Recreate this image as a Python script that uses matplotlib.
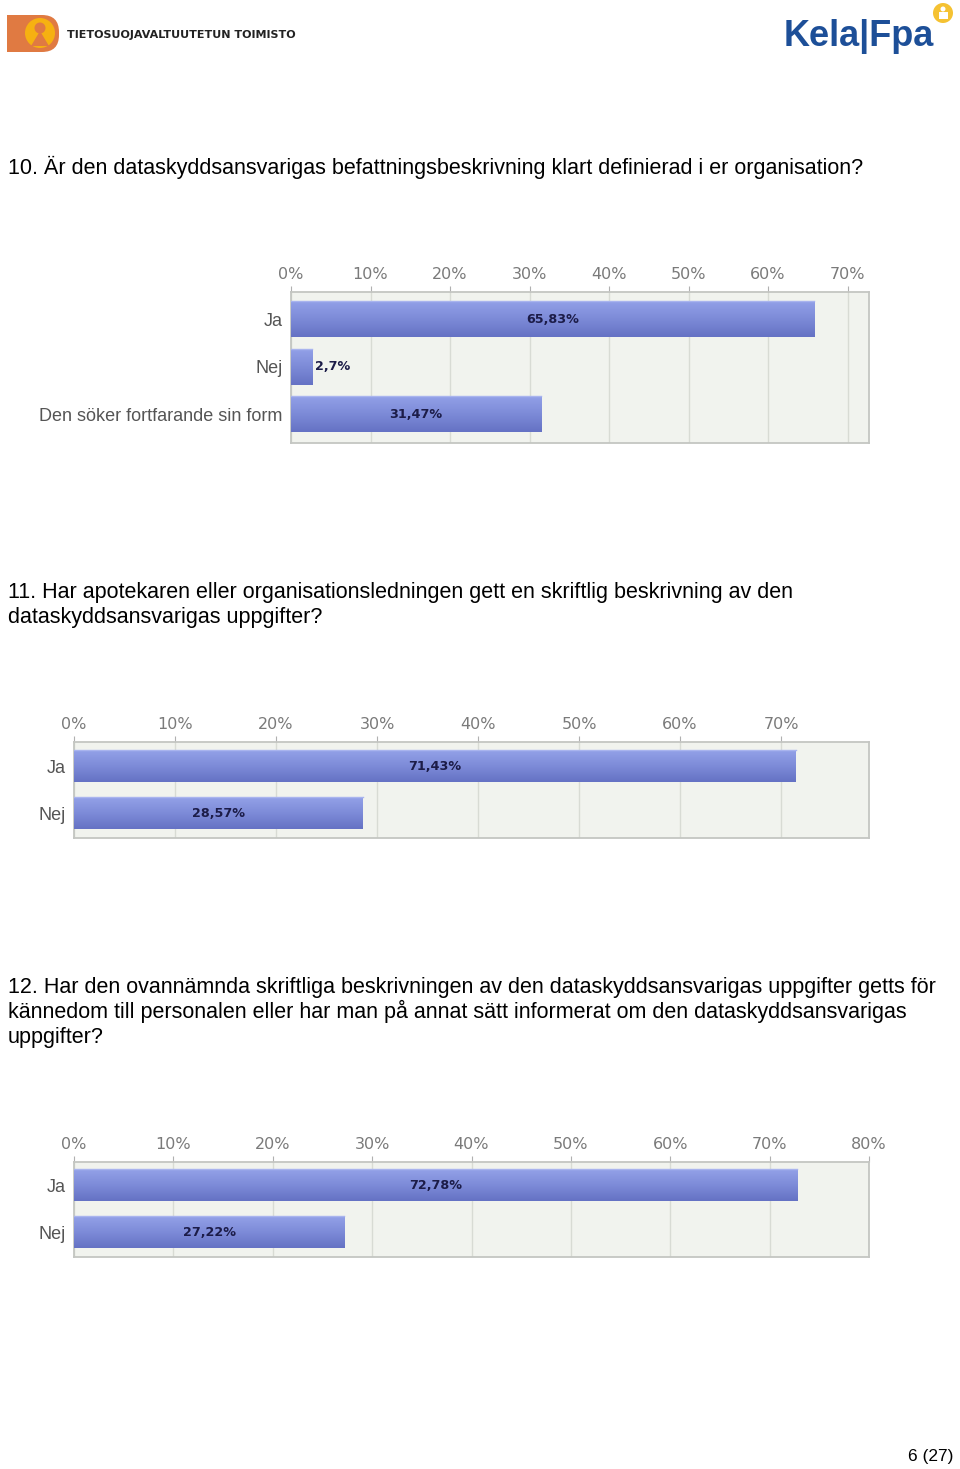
import numpy as np
import matplotlib
matplotlib.use("Agg")
import matplotlib.pyplot as plt
from matplotlib.colors import LinearSegmentedColormap
from matplotlib.patches import FancyBboxPatch, Circle, Polygon, Rectangle

# survey data
q10_text = ["10. Är den dataskyddsansvarigas befattningsbeskrivning klart definierad i er organisation?"]
q10_labels = ["Ja", "Nej", "Den söker fortfarande sin form"]
q10_values = [65.83, 2.7, 31.47]
q10_ticks = [0, 10, 20, 30, 40, 50, 60, 70]

q11_text = ["11. Har apotekaren eller organisationsledningen gett en skriftlig beskrivning av den",
            "dataskyddsansvarigas uppgifter?"]
q11_labels = ["Ja", "Nej"]
q11_values = [71.43, 28.57]
q11_ticks = [0, 10, 20, 30, 40, 50, 60, 70]

q12_text = ["12. Har den ovannämnda skriftliga beskrivningen av den dataskyddsansvarigas uppgifter getts för",
            "kännedom till personalen eller har man på annat sätt informerat om den dataskyddsansvarigas",
            "uppgifter?"]
q12_labels = ["Ja", "Nej"]
q12_values = [72.78, 27.22]
q12_ticks = [0, 10, 20, 30, 40, 50, 60, 70, 80]

W, H = 960, 1469
fig = plt.figure(figsize=(W / 100, H / 100), dpi=100)
fig.patch.set_facecolor("white")

bar_cmap = LinearSegmentedColormap.from_list("bar", ["#93a1e8", "#7d8bd8", "#6572c4"])


def px_axes(x0, y0, x1, y1):
    return fig.add_axes([x0 / W, 1 - y1 / H, (x1 - x0) / W, (y1 - y0) / H])


def fmt(v):
    return ("%g" % v).replace(".", ",") + "%"


def bar_chart(box, labels, values, ticks, xmax, ylim, height):
    ax = px_axes(*box)
    ax.set_facecolor("#f1f3ee")
    pos = np.arange(len(values))
    bars = ax.barh(pos, values, height=height, color="#7b89d6", zorder=2)
    grad = np.linspace(0, 1, 64).reshape(-1, 1)
    for b, v in zip(bars, values):
        bb = b.get_bbox()
        im = ax.imshow(grad, extent=(bb.x0, bb.x1, bb.y1, bb.y0), origin="upper",
                       aspect="auto", cmap=bar_cmap, zorder=3)
        im.set_clip_path(b)
        ax.plot([bb.x0, bb.x1], [bb.y0, bb.y0], color="#a9b4ee", lw=1, zorder=4)
        yc = (bb.y0 + bb.y1) / 2
        if v < 5:
            ax.text(v + 0.3, yc, fmt(v), ha="left", va="center", fontsize=9.2,
                    fontweight="bold", color="#1c1c48", zorder=5)
        else:
            ax.text(v / 2, yc, fmt(v), ha="center", va="center", fontsize=9.2,
                    fontweight="bold", color="#1c1c48", zorder=5)
    ax.set_xlim(0, xmax)
    ax.set_ylim(*ylim)
    ax.set_xticks(ticks)
    ax.set_xticklabels(["%d%%" % t for t in ticks])
    ax.xaxis.tick_top()
    ax.tick_params(axis="x", length=4, color="#b0b0b0", labelcolor="#7a7a7a",
                   labelsize=11.5, pad=3)
    ax.set_yticks(pos)
    ax.set_yticklabels(labels, fontfamily="Liberation Sans", fontsize=13, color="#555555")
    ax.tick_params(axis="y", length=0, pad=6)
    ax.grid(axis="x", color="#d8dbd4", lw=1, zorder=1)
    ax.set_axisbelow(True)
    for s in ax.spines.values():
        s.set_color("#c4c6c2")
        s.set_linewidth(1.3)
    return ax


def question(lines, y0):
    # one text per line, placed on a 25 px baseline grid
    for i, line in enumerate(lines):
        fig.text(8 / W, 1 - (y0 + 7 + 25 * i) / H, line, fontfamily="Liberation Sans",
                 fontsize=15.5, color="black", ha="left", va="baseline")


question(q10_text, 167)
bar_chart((291, 292, 869, 443), q10_labels, q10_values, q10_ticks, 72.7, (2.61, -0.57), 0.76)

question(q11_text, 591)
bar_chart((74, 742, 869, 838), q11_labels, q11_values, q11_ticks, 78.7, (1.53, -0.51), 0.68)

question(q12_text, 986)
bar_chart((74, 1162, 869, 1257), q12_labels, q12_values, q12_ticks, 80, (1.53, -0.49), 0.68)

# header logos
lg = fig.add_axes([0, 0, 1, 1])
lg.set_xlim(0, W)
lg.set_ylim(H, 0)
lg.axis("off")
lg.patch.set_alpha(0)
lg.add_patch(FancyBboxPatch((9, 15), 50, 37, boxstyle="round,pad=0,rounding_size=17",
                            fc="#e07a42", ec="none"))
lg.add_patch(Rectangle((7, 15), 28, 37, fc="#e07a42", ec="none"))
lg.add_patch(Circle((40, 33), 15, fc="#f6b111", ec="none"))
lg.add_patch(Polygon([(40, 31), (31, 46), (49, 46)], closed=True, fc="#e07a42", ec="none"))
lg.add_patch(Circle((40, 28), 5.5, fc="#e07a42", ec="none"))
lg.text(67, 35, "TIETOSUOJAVALTUUTETUN TOIMISTO",
        fontsize=8, fontweight="semibold", color="#222222", va="center", ha="left")
lg.text(784, 36, "Kela|Fpa", fontfamily="Liberation Sans", fontweight="bold",
        fontsize=26, color="#1d4f98", va="center", ha="left")
lg.add_patch(Circle((943, 13), 10, fc="#f5c232", ec="none"))
lg.add_patch(Circle((943, 9), 2.5, fc="white", ec="none"))
lg.add_patch(Rectangle((938.5, 12), 9, 7, fc="white", ec="none"))

fig.text(953 / W, 1 - 1456 / H, "6 (27)", fontfamily="Liberation Sans", fontsize=12.5,
         ha="right", va="center", color="black")

plt.savefig("out.png", dpi=100)
